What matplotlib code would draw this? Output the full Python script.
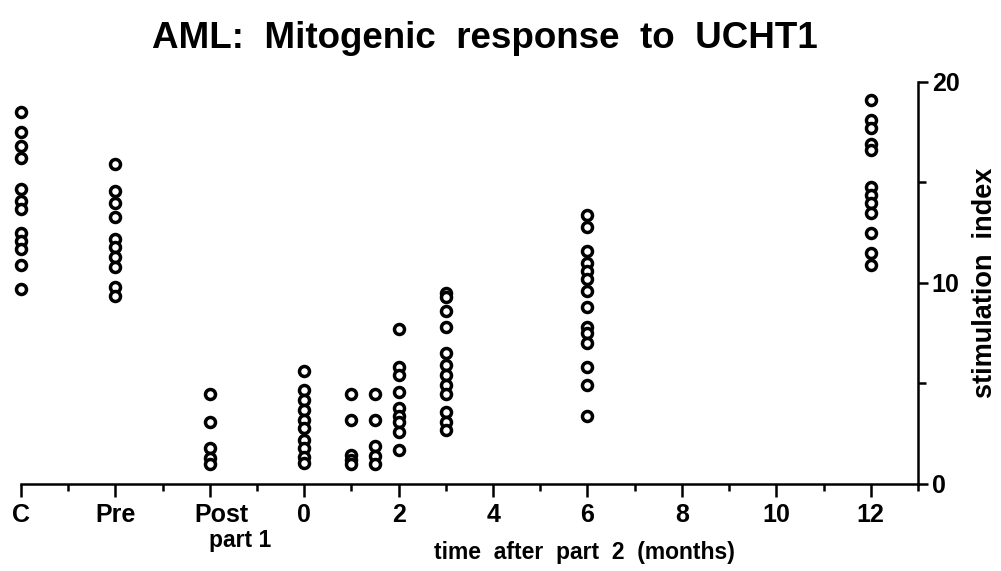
import matplotlib
matplotlib.use("Agg")
import matplotlib.pyplot as plt
from matplotlib.transforms import ScaledTranslation

plt.rcParams['font.family'] = ['Liberation Sans', 'DejaVu Sans']
plt.rcParams['font.weight'] = 'bold'

# x positions: C, Pre and Post sit left of month 0; the rest are months after part 2
tick_pos = [-6, -4, -2, 0, 2, 4, 6, 8, 10, 12]
tick_labels = ['C', 'Pre', 'Post', '0', '2', '4', '6', '8', '10', '12']
minor_pos = [-5, -3, -1, 1, 3, 5, 7, 9, 11, 13]

# stimulation index for each group
si_control = [18.5, 17.5, 16.8, 16.2, 14.7, 14.1, 13.7, 12.5, 12.1, 11.7, 10.9, 9.7]
si_pre = [15.9, 14.6, 14.0, 13.3, 12.2, 11.8, 11.3, 10.8, 9.8, 9.35]
si_post = [4.5, 3.1, 1.8, 1.3, 1.0]
si_m0 = [5.6, 4.7, 4.2, 3.7, 3.2, 2.8, 2.2, 1.8, 1.35, 1.05]
si_m1 = [4.5, 3.2, 1.45, 1.2, 1.0]
si_m1_5 = [4.5, 3.2, 1.9, 1.4, 1.0]
si_m2 = [7.7, 5.8, 5.4, 4.6, 3.8, 3.4, 3.1, 2.6, 1.7]
si_m3 = [9.5, 9.3, 8.6, 7.8, 6.5, 5.9, 5.4, 4.9, 4.5, 3.6, 3.1, 2.7]
si_m6 = [13.4, 12.8, 11.6, 11.0, 10.6, 10.2, 9.6, 8.8, 7.8, 7.5, 7.0, 5.8, 4.9, 3.4]
si_m12 = [19.1, 18.1, 17.7, 16.9, 16.6, 14.8, 14.4, 14.0, 13.5, 12.5, 11.5, 10.9]

groups = [(-6, si_control), (-4, si_pre), (-2, si_post), (0, si_m0), (1, si_m1),
          (1.5, si_m1_5), (2, si_m2), (3, si_m3), (6, si_m6), (12, si_m12)]

fig = plt.figure(figsize=(10.01, 5.71), dpi=100)
ax = fig.add_axes([0.021, 0.1524, 0.896, 0.704])

for x, vals in groups:
    ax.plot([x] * len(vals), vals, 'o', ms=7.2, mfc='white', mec='black',
            mew=2.5, clip_on=False, zorder=3)

ax.set_xlim(-6, 13)
ax.set_ylim(0, 20)

ax.spines['left'].set_visible(False)
ax.spines['top'].set_visible(False)
ax.spines['bottom'].set_linewidth(1.8)
ax.spines['right'].set_linewidth(1.8)

ax.set_xticks(tick_pos)
ax.set_xticklabels(tick_labels)
ax.set_xticks(minor_pos, minor=True)
ax.tick_params(axis='x', which='major', length=9, width=1.8, pad=5, labelsize=18)
ax.tick_params(axis='x', which='minor', length=5, width=1.8)

# "Post" sits a little right of its tick
post = ax.get_xticklabels()[2]
post.set_transform(post.get_transform() + ScaledTranslation(12 / 100, 0, fig.dpi_scale_trans))

ax.yaxis.tick_right()
ax.set_yticks([0, 10, 20])
ax.set_yticks([5, 15], minor=True)
ax.tick_params(axis='y', which='major', length=7, width=1.8, pad=3, labelsize=18)
ax.tick_params(axis='y', which='minor', length=6, width=1.8)

fig.text(0.484, 1 - 38 / 571, 'AML:  Mitogenic  response  to  UCHT1',
         ha='center', va='center', fontsize=26.5, fontweight='bold')
fig.text(240 / 1001, 1 - 541 / 571, 'part 1', ha='center', va='center',
         fontsize=16.5, fontweight='bold')
fig.text(584 / 1001, 1 - 553 / 571, 'time  after  part  2  (months)',
         ha='center', va='center', fontsize=16.5, fontweight='bold')
fig.text(985 / 1001, 1 - 283 / 571, 'stimulation  index', rotation=90,
         ha='center', va='center', fontsize=19.5, fontweight='bold')

fig.savefig('out.png', dpi=100)
